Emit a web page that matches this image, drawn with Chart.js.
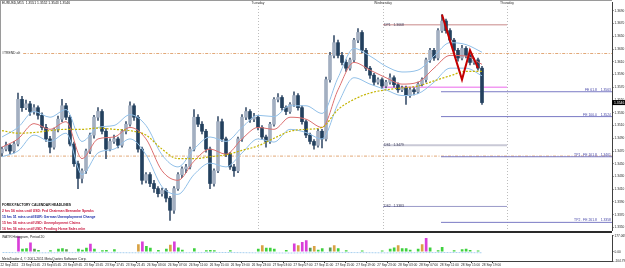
<!DOCTYPE html>
<html><head><meta charset="utf-8">
<script src="https://cdn.jsdelivr.net/npm/chart.js@4.4.1/dist/chart.umd.min.js"></script>
<style>
html,body{margin:0;padding:0;background:#fff}
#wrap{position:relative;width:625px;height:268px;overflow:hidden;background:#fff}
canvas{position:absolute;left:0}
#main{top:0}
#ind{top:233px}
</style></head><body>
<div id="wrap">
<canvas id="main" width="625" height="233" style="width:625px;height:233px"></canvas>
<canvas id="ind" width="625" height="35" style="width:625px;height:35px"></canvas>
</div>
<script>
// ---------- DATA ----------
const headerText = "EURUSD,M15  1.3551 1.3552 1.3543 1.3546";
const opens = [1.3467,1.3473,1.3479,1.3470,1.3481,1.3551,1.3538,1.3544,1.3532,1.3538,
1.3526,1.3507,1.3489,1.3476,1.3504,1.3520,1.3541,1.3523,1.3481,1.3450,
1.3427,1.3439,1.3470,1.3495,1.3523,1.3532,1.3501,1.3473,1.3485,1.3489,
1.3479,1.3501,1.3512,1.3541,1.3523,1.3473,1.3424,1.3433,1.3419,1.3411,
1.3403,1.3408,1.3396,1.3377,1.3411,1.3433,1.3442,1.3445,1.3473,1.3523,
1.3512,1.3501,1.3473,1.3419,1.3439,1.3516,1.3489,1.3465,1.3445,1.3439,
1.3489,1.3523,1.3532,1.3520,1.3523,1.3507,1.3492,1.3485,1.3512,1.3551,
1.3554,1.3538,1.3532,1.3543,1.3557,1.3538,1.3516,1.3495,1.3485,1.3479,
1.3501,1.3489,1.3582,1.3620,1.3640,1.3620,1.3609,1.3600,1.3613,1.3644,
1.3656,1.3628,1.3600,1.3589,1.3578,1.3582,1.3572,1.3578,1.3585,1.3574,
1.3566,1.3569,1.3557,1.3566,1.3563,1.3575,1.3582,1.3613,1.3628,1.3616,
1.3659,1.3674,1.3659,1.3644,1.3628,1.3616,1.3631,1.3620,1.3609,1.3613,
1.3600];
const highs = [1.3476,1.3484,1.3481,1.3485,1.3561,1.3556,1.3550,1.3548,1.3543,1.3541,
1.3530,1.3512,1.3493,1.3506,1.3525,1.3551,1.3545,1.3526,1.3484,1.3454,
1.3442,1.3473,1.3498,1.3526,1.3538,1.3535,1.3505,1.3489,1.3495,1.3492,
1.3504,1.3516,1.3547,1.3544,1.3526,1.3476,1.3436,1.3436,1.3424,1.3414,
1.3412,1.3411,1.3399,1.3414,1.3436,1.3445,1.3449,1.3476,1.3535,1.3527,
1.3516,1.3504,1.3476,1.3442,1.3524,1.3520,1.3492,1.3468,1.3449,1.3492,
1.3527,1.3538,1.3535,1.3529,1.3526,1.3510,1.3495,1.3515,1.3554,1.3560,
1.3557,1.3541,1.3546,1.3563,1.3560,1.3541,1.3519,1.3498,1.3488,1.3504,
1.3504,1.3586,1.3625,1.3651,1.3644,1.3625,1.3613,1.3616,1.3647,1.3662,
1.3659,1.3631,1.3603,1.3592,1.3585,1.3585,1.3581,1.3591,1.3588,1.3577,
1.3572,1.3572,1.3569,1.3569,1.3578,1.3585,1.3616,1.3631,1.3631,1.3662,
1.3684,1.3677,1.3662,1.3647,1.3631,1.3636,1.3634,1.3623,1.3616,1.3616,
1.3603];
const lows = [1.3462,1.3470,1.3466,1.3467,1.3478,1.3532,1.3535,1.3526,1.3528,1.3520,
1.3503,1.3485,1.3467,1.3473,1.3500,1.3516,1.3519,1.3478,1.3446,1.3411,
1.3420,1.3435,1.3466,1.3490,1.3518,1.3497,1.3458,1.3470,1.3482,1.3475,
1.3476,1.3497,1.3509,1.3518,1.3468,1.3418,1.3420,1.3414,1.3405,1.3398,
1.3399,1.3390,1.3361,1.3372,1.3408,1.3428,1.3436,1.3442,1.3470,1.3508,
1.3497,1.3468,1.3411,1.3415,1.3436,1.3485,1.3461,1.3441,1.3430,1.3436,
1.3485,1.3519,1.3515,1.3516,1.3503,1.3488,1.3476,1.3482,1.3509,1.3547,
1.3534,1.3527,1.3529,1.3540,1.3534,1.3512,1.3491,1.3481,1.3473,1.3476,
1.3475,1.3486,1.3578,1.3616,1.3616,1.3605,1.3595,1.3597,1.3609,1.3640,
1.3624,1.3596,1.3584,1.3573,1.3575,1.3568,1.3569,1.3575,1.3570,1.3562,
1.3563,1.3543,1.3554,1.3558,1.3560,1.3572,1.3578,1.3609,1.3612,1.3613,
1.3656,1.3655,1.3640,1.3624,1.3611,1.3613,1.3616,1.3605,1.3606,1.3597,
1.3543];
const closes = [1.3473,1.3479,1.3470,1.3481,1.3551,1.3538,1.3544,1.3532,1.3538,1.3526,
1.3507,1.3489,1.3476,1.3504,1.3520,1.3541,1.3523,1.3481,1.3450,1.3427,
1.3439,1.3470,1.3495,1.3523,1.3532,1.3501,1.3473,1.3485,1.3489,1.3479,
1.3501,1.3512,1.3541,1.3523,1.3473,1.3424,1.3433,1.3419,1.3411,1.3403,
1.3408,1.3396,1.3377,1.3411,1.3433,1.3442,1.3445,1.3473,1.3523,1.3512,
1.3501,1.3473,1.3419,1.3439,1.3516,1.3489,1.3465,1.3445,1.3439,1.3489,
1.3523,1.3532,1.3520,1.3523,1.3507,1.3492,1.3485,1.3512,1.3551,1.3554,
1.3538,1.3532,1.3543,1.3557,1.3538,1.3516,1.3495,1.3485,1.3479,1.3501,
1.3489,1.3582,1.3620,1.3640,1.3620,1.3609,1.3600,1.3613,1.3644,1.3656,
1.3628,1.3600,1.3589,1.3578,1.3582,1.3572,1.3578,1.3585,1.3574,1.3566,
1.3569,1.3557,1.3566,1.3563,1.3575,1.3582,1.3613,1.3628,1.3616,1.3659,
1.3674,1.3659,1.3644,1.3628,1.3616,1.3631,1.3620,1.3609,1.3613,1.3600,
1.3546];

// moving averages, read every 4th bar
const maStep = 4;
const maSlow  = [1.3502,1.3498,1.3499,1.3502,1.3504,1.3504,1.3506,1.3504,1.3502,1.3495,1.3473,1.3458,1.3458,1.3461,1.3464,1.3471,1.3478,1.3490,1.3501,1.3504,1.3507,1.3535,1.3551,1.3561,1.3566,1.3569,1.3572,1.3580,1.3588,1.3595,1.3595];
const maMid   = [1.3476,1.3489,1.3513,1.3504,1.3516,1.3458,1.3489,1.3492,1.3507,1.3489,1.3439,1.3424,1.3454,1.3473,1.3465,1.3489,1.3507,1.3504,1.3523,1.3520,1.3507,1.3566,1.3609,1.3597,1.3585,1.3575,1.3578,1.3600,1.3620,1.3619,1.3606];
const maUpper = [1.3492,1.3507,1.3532,1.3523,1.3535,1.3485,1.3507,1.3510,1.3527,1.3510,1.3464,1.3445,1.3473,1.3492,1.3485,1.3507,1.3526,1.3524,1.3541,1.3541,1.3529,1.3585,1.3631,1.3619,1.3603,1.3594,1.3597,1.3619,1.3640,1.3637,1.3625];
const maLower = [1.3461,1.3470,1.3495,1.3485,1.3498,1.3433,1.3467,1.3473,1.3489,1.3464,1.3414,1.3402,1.3433,1.3451,1.3445,1.3467,1.3489,1.3484,1.3504,1.3499,1.3489,1.3544,1.3585,1.3575,1.3566,1.3557,1.3560,1.3578,1.3600,1.3600,1.3588];

// zigzag
const zzBars = [110,115,117,119];
const zzPrices = [1.3684,1.3582,1.3628,1.3600];

// levels
const dayNames = ["Tuesday","Wednesday","Thursday"];
const dayBars = [64,95.25,126.25];
const pivotNames = ["DP1","DS1","DS2"];
const pivotValues = [1.3668,1.3479,1.3383];
const pinkLevel = 1.3570;
const feNames = ["FE 61.8","FE 100.0","TP1 . FE 161.8","TP2 . FE 261.8"];
const feValues = [1.3563,1.3524,1.3461,1.3358];
const feStartBar = 109.75;
const alertValues = [1.3623,1.3462];
const alertLabel = "#TREND alt";
const currentPrice = 1.3546;

const yTicks = [1.3690,1.3670,1.3650,1.3630,1.3610,1.3590,1.3570,1.3550,1.3530,1.3510,1.3490,1.3470,1.3450,1.3430,1.3410,1.3390,1.3370,1.3350];
const xLabels = ["22 Sep 2011","23 Sep 01:45","23 Sep 05:45","23 Sep 09:45","23 Sep 13:45","23 Sep 17:45","23 Sep 21:45","26 Sep 03:00","26 Sep 07:00","26 Sep 11:00","26 Sep 15:00","26 Sep 19:00","26 Sep 23:00","27 Sep 03:00","27 Sep 07:00","27 Sep 11:00","27 Sep 15:00","27 Sep 19:00","27 Sep 23:00","28 Sep 03:00","28 Sep 07:00","28 Sep 11:00","28 Sep 15:00","28 Sep 19:00"];
const barsPerLabel = 5.2375;

// indicator histogram
const histBars   = [4,5,6,7,8,9,12,14,15,16,19,20,21,22,23,25,26,28,34,35,36,37,39,41,42,43,44,45,48,51,52,53,57,64,65,66,67,68,71,73,74,75,76,77,78,79,80,82,83,84,86,90,95,97,98,99,100,101,102,104,105,106,107,109,110,113,115,116,117,119];
const histValues = [170,30,35,100,30,15,12,30,35,25,30,20,40,85,30,12,15,25,80,110,60,40,15,30,75,110,45,20,35,12,15,12,12,30,70,40,40,30,15,90,70,105,125,40,60,20,35,45,70,35,12,10,10,30,45,70,35,35,20,30,80,150,45,12,50,12,25,30,15,10];
const histKinds  = ['m','g','g','m','d','g','g','g','g','d','g','g','g','m','g','g','g','g','o','m','g','g','g','g','o','m','g','g','g','g','g','g','g','g','o','g','g','g','g','m','o','m','m','d','o','g','g','d','o','g','g','g','g','g','g','o','g','g','g','g','o','m','g','g','g','g','g','g','g','g'];
const histSignal = [-8,-12,-10,-9,-11,-12,-10,-8,-12,-14,-10,-9,-12,-10,-8,-11];
const histSignalStep = 8;
const indTicks = [177.069,0,-104.79];
const indTickLabels = ["177.069","0.00","-104.79"];
const indTitle = "WATR Histogram, Period 20";

const headlines = ["2 hrs 56 mins until USD: Fed Chairman Bernanke Speaks","15 hrs 51 mins until EUR: German Unemployment Change","15 hrs 56 mins until USD: Unemployment Claims","16 hrs 56 mins until USD: Pending Home Sales m/m"];
const headlineColors = ["#c8143c","#1a2aa8","#c8143c","#c8143c"];
const copyrightText = "MetaTrader 4, \u00a9 2001-2011 MetaQuotes Software Corp.";

// ---------- RENDER ----------
const FONT = '"Liberation Sans", Arial, sans-serif';
const XMIN = -0.5, XMAX = 152.5;
const idx = closes.map((_,i)=>i);
const sparse = (vals, step) => vals.map((v,k)=>({x:k*step, y:v}));
const lineDs = (label, pts, color, extra) => Object.assign({type:'line', label, data:pts, borderColor:color, borderWidth:1, pointRadius:0, fill:false, order:1, cubicInterpolationMode:'monotone'}, extra||{});
const seg = (a,b,v) => [{x:a,y:v},{x:b,y:v}];

const datasets = [
  lineDs('maSlow', sparse(maSlow,maStep), '#c4b400', {borderDash:[2,1.5], borderWidth:1.2}),
  lineDs('maUpper', sparse(maUpper,maStep), '#92c0e8'),
  lineDs('maLower', sparse(maLower,maStep), '#92c0e8'),
  lineDs('maMid', sparse(maMid,maStep), '#dc7070'),
  {type:'bar', label:'wick', data: idx.map(i=>({x:i, y:[lows[i],highs[i]]})), backgroundColor:'#3f5570', barThickness:1, grouped:false, order:6},
  {type:'bar', label:'body', data: idx.map(i=>({x:i, y:[opens[i],closes[i]]})), backgroundColor: idx.map(i=>closes[i]>=opens[i]?'#a3afc1':'#23405e'), barThickness:3, grouped:false, minBarLength:1, order:5},
  lineDs('pink', seg(dayBars[1],dayBars[2],pinkLevel), '#f29af2', {borderWidth:1.5, order:8, cubicInterpolationMode:'default'}),
];
const pivotStyles = [{c:'#c88888',w:1},{c:'#c9c9d6',w:2},{c:'#9a9ac8',w:1}];
pivotValues.forEach((v,k)=>datasets.push(lineDs('pivot'+k, seg(dayBars[1],dayBars[2],v), pivotStyles[k].c, {borderWidth:pivotStyles[k].w, order:8, cubicInterpolationMode:'default'})));
feValues.forEach((v,k)=>datasets.push(lineDs('fe'+k, seg(feStartBar,XMAX,v), '#7a7ac4', {order:8, cubicInterpolationMode:'default'})));
alertValues.forEach((v,k)=>datasets.push(lineDs('alert'+k, seg(k===0?5.3:XMIN,XMAX,v), '#e2a878', {borderDash:[3,1.5,1,1.5], order:9, cubicInterpolationMode:'default'})));
datasets.push(lineDs('zigzag', zzBars.map((b,k)=>({x:b,y:zzPrices[k]})), '#c40000', {borderWidth:2, order:0, cubicInterpolationMode:'default'}));

const mainDeco = {
  id:'mainDeco',
  beforeDatasetsDraw(chart){
    const {ctx, chartArea:a, scales:{x}} = chart;
    ctx.save();
    ctx.strokeStyle='#bdbdbd'; ctx.lineWidth=1; ctx.setLineDash([1,2]);
    dayBars.forEach(b=>{const px=Math.round(x.getPixelForValue(b))+0.5; ctx.beginPath(); ctx.moveTo(px,0); ctx.lineTo(px,a.bottom); ctx.stroke();});
    ctx.restore();
  },
  afterDraw(chart){
    const {ctx, chartArea:a, scales:{x,y}} = chart;
    ctx.save();
    ctx.font = '3.4px '+FONT;
    ctx.textBaseline='middle';
    ctx.fillStyle='#333'; ctx.textAlign='center';
    dayBars.forEach((b,k)=>ctx.fillText(dayNames[k], x.getPixelForValue(b), 3.5));
    ctx.textAlign='left'; ctx.fillStyle='#3c3c5a';
    pivotValues.forEach((v,k)=>ctx.fillText(pivotNames[k]+'   '+v.toFixed(4), x.getPixelForValue(dayBars[1])+1, y.getPixelForValue(v)));
    ctx.textAlign='right'; ctx.fillStyle='#4646a8'; ctx.textBaseline='bottom';
    feValues.forEach((v,k)=>ctx.fillText(feNames[k]+'    '+v.toFixed(4), a.right-1, y.getPixelForValue(v)-0.3));
    ctx.textAlign='left'; ctx.textBaseline='middle'; ctx.fillStyle='#222';
    ctx.fillText(alertLabel, 2, y.getPixelForValue(alertValues[0]));
    ctx.fillStyle='#9a9a9a'; ctx.fillRect(0,0,a.right,1); ctx.fillRect(0,0,1,a.bottom);
    ctx.fillStyle='#2a2a2a'; ctx.fillRect(0,231,a.right,2);
    const py = y.getPixelForValue(currentPrice);
    ctx.fillStyle='#000'; ctx.fillRect(a.right, py-2.5, 13, 5);
    ctx.fillStyle='#fff'; ctx.textAlign='left'; ctx.fillText(currentPrice.toFixed(4), a.right+2, py+0.2);
    ctx.fillStyle='#111'; ctx.fillText(headerText, 2, 3.5);
    ctx.font = 'bold 3.4px '+FONT; ctx.fillStyle='#111';
    ctx.fillText('FOREX FACTORY CALENDAR HEADLINES', 2, 205);
    headlines.forEach((h,k)=>{ctx.fillStyle=headlineColors[k]; ctx.fillText(h, 2, 211.5+k*5.8);});
    ctx.restore();
  }
};

new Chart(document.getElementById('main'), {
  type:'bar',
  data:{datasets},
  options:{
    responsive:false, animation:false, events:[],
    layout:{padding:{left:0,right:0,top:1,bottom:1}},
    plugins:{legend:{display:false}, tooltip:{enabled:false}},
    scales:{
      x:{type:'linear', min:XMIN, max:XMAX, offset:false, display:false},
      y:{type:'linear', position:'right', min:1.33459, max:1.37024, beginAtZero:false,
         afterBuildTicks:s=>{s.ticks = yTicks.map(v=>({value:v}));},
         afterFit:s=>{s.width=13;},
         grid:{drawOnChartArea:false, tickLength:1.5, color:'#404040'},
         border:{color:'#404040', width:1},
         ticks:{font:{size:3.2, family:FONT}, color:'#222', padding:1, callback:v=>Number(v).toFixed(4)}}
    }
  },
  plugins:[mainDeco]
});

const kindColor = {g:'#3ed13e', d:'#5a9a50', o:'#d8a244', m:'#d93ed9'};
const indDeco = {
  id:'indDeco',
  afterDraw(chart){
    const {ctx} = chart;
    ctx.save();
    ctx.font='3.4px '+FONT; ctx.fillStyle='#222'; ctx.textBaseline='middle'; ctx.textAlign='left';
    ctx.fillText(indTitle, 2, 4);
    ctx.fillText(copyrightText, 2, 25.8);
    ctx.restore();
  }
};
new Chart(document.getElementById('ind'), {
  type:'bar',
  data:{datasets:[
    {type:'line', data: sparse(histSignal,histSignalStep), borderColor:'#a8d0f0', borderWidth:1, borderDash:[2,1], pointRadius:0, order:0},
    {type:'bar', data: histBars.map((b,k)=>({x:b, y:histValues[k]})), backgroundColor: histKinds.map(c=>kindColor[c]), barThickness:2, grouped:false, order:1}
  ]},
  options:{
    responsive:false, animation:false, events:[],
    layout:{padding:{left:0,right:0,top:0,bottom:0}},
    plugins:{legend:{display:false}, tooltip:{enabled:false}},
    scales:{
      x:{type:'linear', min:XMIN, max:XMAX, offset:false,
         afterBuildTicks:s=>{s.ticks = xLabels.map((_,k)=>({value:XMIN + k*barsPerLabel}));},
         grid:{drawOnChartArea:false, tickLength:2, color:'#404040'},
         border:{color:'#404040'},
         ticks:{align:'start', autoSkip:false, maxRotation:0, minRotation:0, padding:0.5, font:{size:3.2, family:FONT}, color:'#222', callback:(v,i)=>xLabels[i]}},
      y:{type:'linear', position:'right', min:-104.79, max:177.069,
         afterBuildTicks:s=>{s.ticks = indTicks.map(v=>({value:v}));},
         afterFit:s=>{s.width=13;},
         grid:{drawOnChartArea:false, tickLength:1.5, color:'#404040'},
         border:{color:'#404040'},
         ticks:{font:{size:3.2, family:FONT}, color:'#222', padding:1, callback:(v,i)=>indTickLabels[i]}}
    }
  },
  plugins:[indDeco]
});
</script>
</body></html>
